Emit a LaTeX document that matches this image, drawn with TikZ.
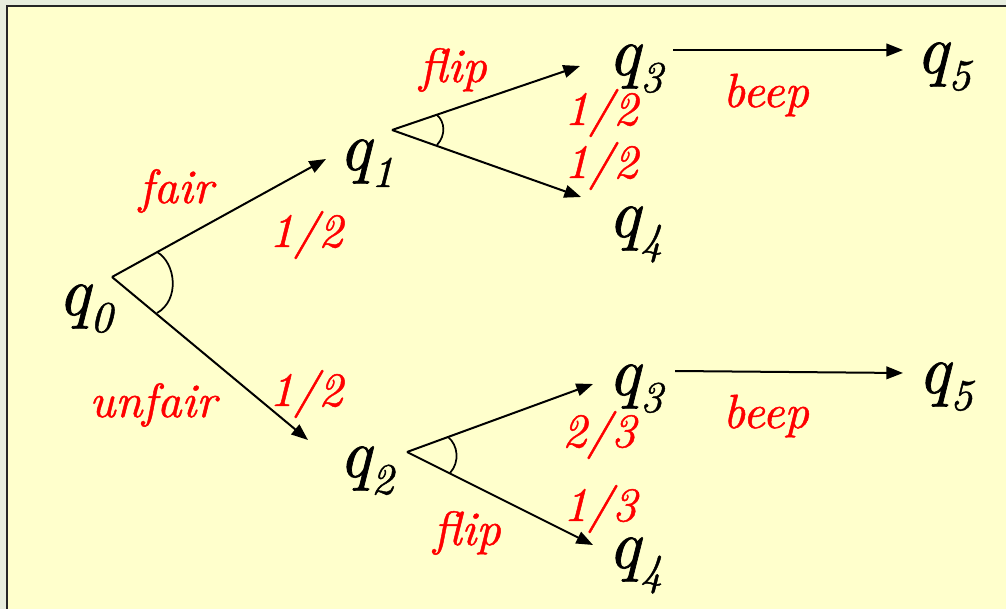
\documentclass[tikz,border=0pt]{standalone}
\usepackage{fontspec}
\setmainfont{lmroman10-regular.otf}[ItalicFont=lmroman10-italic.otf, ItalicFeatures={FakeBold=1.0}]
\usetikzlibrary{arrows.meta}
\definecolor{bgout}{HTML}{E8EEDE}
\definecolor{bgin}{HTML}{FFFFCC}
\definecolor{lab}{HTML}{FF0000}
\newcommand{\stname}[1]{q\raisebox{-12.75pt}{\fontsize{33}{34}\selectfont #1}}
\tikzset{
  state/.style={anchor=base west, inner sep=0pt, font=\itshape\fontsize{52}{53}\selectfont},
  lbl/.style={anchor=base, inner sep=0pt, text=lab, font=\itshape\fontsize{36}{37}\selectfont},
  arr/.style={line width=1.5pt, -{Triangle[length=12.5pt,width=9.5pt]}},
  arcline/.style={line width=1.3pt}
}
\begin{document}
\begin{tikzpicture}[x=0.75pt,y=-0.75pt]
\useasboundingbox (0,0) rectangle (1006,609);
\fill[bgout] (0,0) rectangle (1006,609);
\fill[bgin] (6.5,6.5) rectangle (1006,609);
\draw[line width=1.5pt, black!85] (6.5,609) -- (6.5,6.5) -- (1006,6.5);

% states
\node[state] (q0) at (58,315) {\stname{0}};
\node[state] (q1) at (339,170) {\stname{1}};
\node[state] (q2) at (339,477) {\stname{2}};
\node[state] (q3a) at (608,75) {\stname{3}};
\node[state] (q4a) at (608,237) {\stname{4}};
\node[state] (q5a) at (916,73) {\stname{5}};
\node[state] (q3b) at (608,395) {\stname{3}};
\node[state] (q4b) at (608,568) {\stname{4}};
\node[state] (q5b) at (918,393) {\stname{5}};

% connector end points
\coordinate (q0out) at (112,277);
\coordinate (q1in) at (326,159);
\coordinate (q2in) at (308,440);
\coordinate (q1out) at (392,130);
\coordinate (q3ain) at (580,66);
\coordinate (q4ain) at (581,197);
\coordinate (q3aout) at (673,50);
\coordinate (q5ain) at (903,50);
\coordinate (q2out) at (407,452);
\coordinate (q3bin) at (593,384);
\coordinate (q4bin) at (593,545);
\coordinate (q3bout) at (675,371);
\coordinate (q5bin) at (903,373);

\draw[arr] (q0out) -- (q1in);
\draw[arr] (q0out) -- (q2in);
\draw[arr] (q1out) -- (q3ain);
\draw[arr] (q1out) -- (q4ain);
\draw[arr] (q3aout) -- (q5ain);
\draw[arr] (q2out) -- (q3bin);
\draw[arr] (q2out) -- (q4bin);
\draw[arr] (q3bout) -- (q5bin);

% angle marks
\draw[arcline] (157,252) .. controls (176,263) and (180,300) .. (157,313);
\draw[arcline] (437,115) .. controls (445,122) and (446,135) .. (437,145);
\draw[arcline] (448,437) .. controls (458,445) and (460,462) .. (450,473);

% labels
\node[lbl] (lfair) at (176,203) {fair};
\node[lbl] (lunfair) at (153,417) {unfair};
\node[lbl] (p01) at (306,247) {1/2};
\node[lbl] (p02) at (306,406) {1/2};
\node[lbl] (lflipa) at (453,82) {flip};
\node[lbl] (p13) at (601,125) {1/2};
\node[lbl] (p14) at (601,178) {1/2};
\node[lbl] (lbeepa) at (766,107) {beep};
\node[lbl] (lbeepb) at (766,428) {beep};
\node[lbl] (p23) at (599,447) {2/3};
\node[lbl] (p24) at (600,521) {1/3};
\node[lbl] (lflipb) at (467,545) {flip};
\end{tikzpicture}
\end{document}
